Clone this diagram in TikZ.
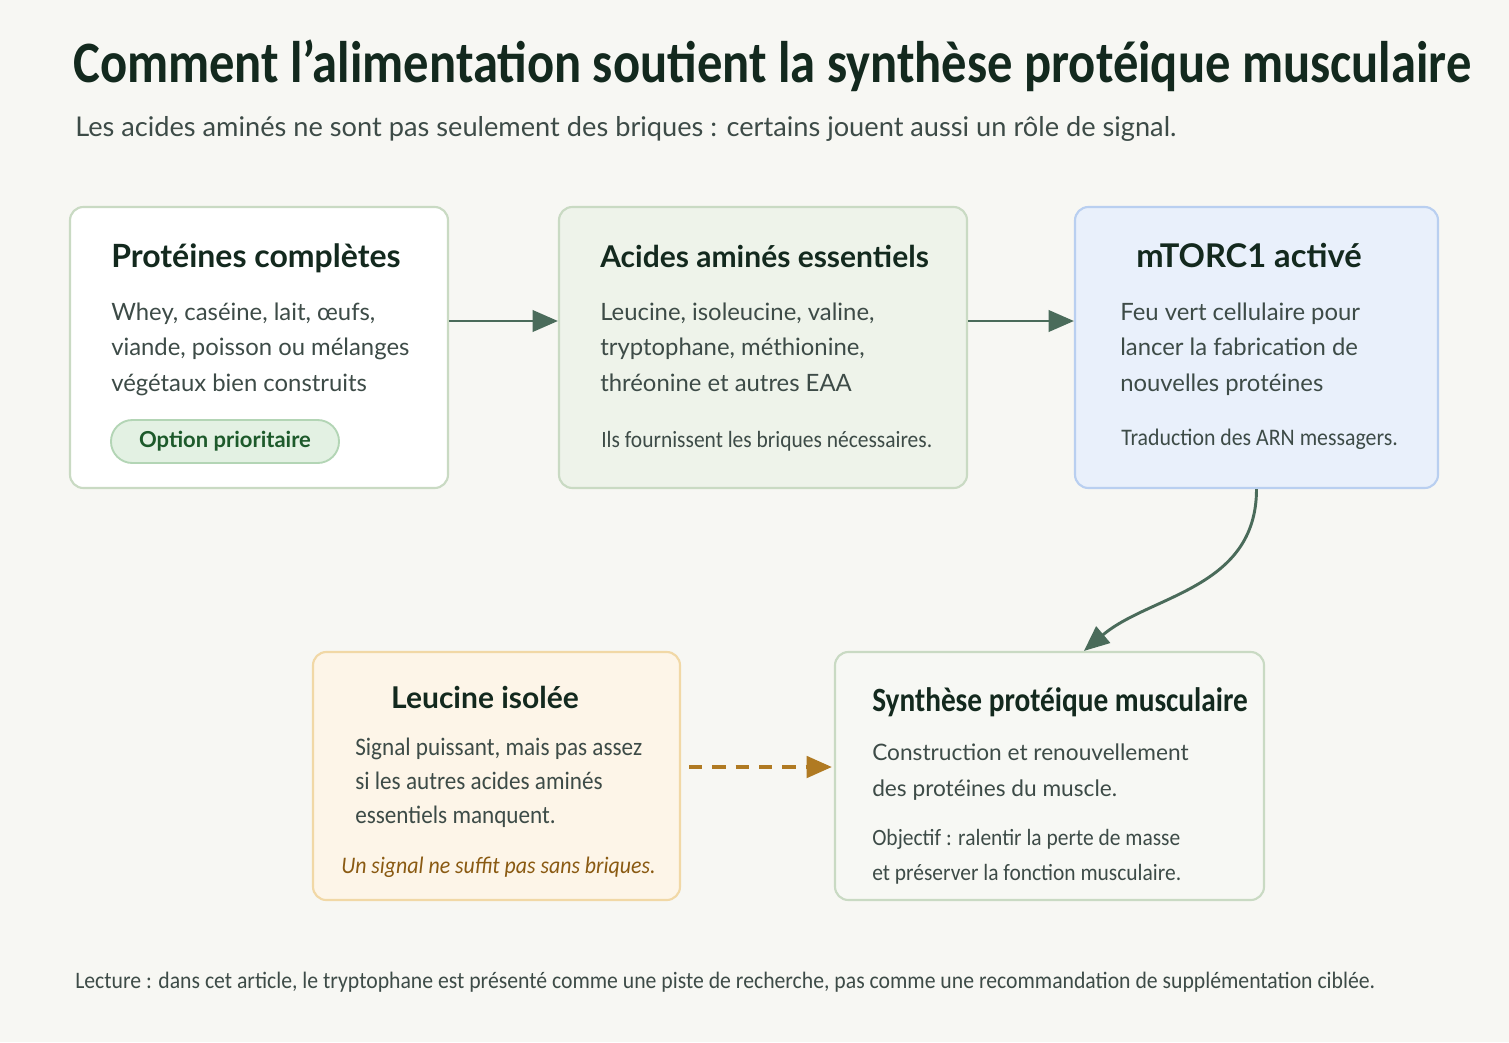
\documentclass[tikz,border=0pt]{standalone}
\usepackage{fontspec}
\setmainfont{Lato}
\newfontfamily\titlefont[FakeStretch=0.862]{Carlito}
\newfontfamily\notefont[FakeStretch=0.92]{Carlito}
\usetikzlibrary{arrows.meta,calc}

\definecolor{bg}{HTML}{F7F7F3}
\definecolor{ink}{HTML}{13291E}
\definecolor{bodyink}{HTML}{3D4B47}
\definecolor{flowgreen}{HTML}{4A6B5A}
\definecolor{linegreen}{HTML}{C9DAC3}
\definecolor{fillgreen}{HTML}{EEF3EA}
\definecolor{fillblue}{HTML}{E9F0FB}
\definecolor{lineblue}{HTML}{B9CFF0}
\definecolor{fillsand}{HTML}{FDF5E8}
\definecolor{linesand}{HTML}{F1D8A6}
\definecolor{fillpale}{HTML}{F7F8F4}
\definecolor{pillfill}{HTML}{E3F1E3}
\definecolor{pillline}{HTML}{B3D5B5}
\definecolor{pillink}{HTML}{1D5A2B}
\definecolor{flowbrown}{HTML}{B07A22}
\definecolor{notebrown}{HTML}{8A5A12}

\def\px{0.75pt}

\tikzset{
  card/.style={draw, line width=1.6pt, rounded corners=10pt, inner sep=0pt},
  cardtitle/.style={anchor=base west, inner sep=0pt, text=ink,
    font=\fontsize{23}{27}\selectfont\bfseries},
  cardtext/.style={anchor=base west, inner sep=0pt, text=bodyink,
    font=\fontsize{17.9}{21}\selectfont},
  cardnote/.style={anchor=base west, inner sep=0pt, text=bodyink,
    font=\notefont\fontsize{17.5}{20}\selectfont},
  flow/.style={-{Triangle[length=19pt,width=16pt]}, line width=2.2pt, draw=flowgreen}
}

\begin{document}
\begin{tikzpicture}[x=0.75pt, y=-0.75pt]

% fond
\fill[bg] (0,0) rectangle (1509,1042);
\useasboundingbox (0,0) rectangle (1509,1042);

% titre
\node[anchor=base west, inner sep=0pt, text=ink,
      font=\titlefont\fontsize{44}{52}\selectfont\bfseries] (titre) at (73,82)
  {Comment l’alimentation soutient la synthèse protéique musculaire};
\node[anchor=base west, inner sep=0pt, text=bodyink,
      font=\fontsize{20.4}{24}\selectfont] (soustitre) at (75,136)
  {Les acides aminés ne sont pas seulement des briques : certains jouent aussi un rôle de signal.};

% rangee du haut
\node[card, draw=linegreen, fill=white,
      minimum width=378*\px, minimum height=281*\px] (prot) at (259,347.5) {};
\node[card, draw=linegreen, fill=fillgreen,
      minimum width=408*\px, minimum height=281*\px] (eaa) at (763,347.5) {};
\node[card, draw=lineblue, fill=fillblue,
      minimum width=363*\px, minimum height=281*\px] (mtor) at (1256.5,347.5) {};

% rangee du bas
\node[card, draw=linesand, fill=fillsand,
      minimum width=367*\px, minimum height=248*\px] (leu) at (496.5,776) {};
\node[card, draw=linegreen, fill=fillpale,
      minimum width=429*\px, minimum height=248*\px] (sps) at (1049.5,776) {};

% Proteines completes
\node[cardtitle, font=\fontsize{24}{28}\selectfont\bfseries] (prot-t) at (111,267) {Protéines complètes};
\foreach \l [count=\i] in {{Whey, caséine, lait, œufs,},
                            {viande, poisson ou mélanges},
                            {végétaux bien construits}}
  \node[cardtext] (prot-\i) at (111,284.5+35.5*\i) {\l};
\node[draw=pillline, fill=pillfill, line width=1.4pt, rounded corners=16pt,
      minimum width=228*\px, minimum height=43*\px, text=pillink,
      font=\fontsize{16.5}{20}\selectfont\bfseries] (pill) at (225,441.5)
  {Option prioritaire};

% Acides amines essentiels
\node[cardtitle, font=\fontsize{22.5}{27}\selectfont\bfseries] (eaa-t) at (600,267) {Acides aminés essentiels};
\foreach \l [count=\i] in {{Leucine, isoleucine, valine,},
                            {tryptophane, méthionine,},
                            {thréonine et autres EAA}}
  \node[cardtext] (eaa-\i) at (600,284.5+35.5*\i) {\l};
\node[cardnote] (eaa-n) at (601,447) {Ils fournissent les briques nécessaires.};

% mTORC1
\node[cardtitle, anchor=base, font=\fontsize{24.5}{29}\selectfont\bfseries] (mtor-t) at (1249,267) {mTORC1 activé};
\foreach \l [count=\i] in {{Feu vert cellulaire pour},
                            {lancer la fabrication de},
                            {nouvelles protéines}}
  \node[cardtext] (mtor-\i) at (1120,284.5+35.5*\i) {\l};
\node[cardnote, font=\notefont\fontsize{17.8}{20}\selectfont] (mtor-n) at (1121,445) {Traduction des ARN messagers.};

% Leucine isolee
\node[cardtitle, anchor=base, font=\fontsize{22.5}{27}\selectfont\bfseries] (leu-t) at (485,708) {Leucine isolée};
\foreach \l [count=\i] in {{Signal puissant, mais pas assez},
                            {si les autres acides aminés},
                            {essentiels manquent.}}
  \node[cardtext, font=\notefont\fontsize{18.9}{22}\selectfont] (leu-\i) at (355,721+34*\i) {\l};
\node[cardnote, text=notebrown, font=\notefont\itshape\fontsize{17.8}{21}\selectfont]
  (leu-n) at (341,873) {Un signal ne suffit pas sans briques.};

% Synthese proteique musculaire
\node[cardtitle, font=\titlefont\fontsize{25.5}{31}\selectfont\bfseries] (sps-t) at (872,711)
  {Synthèse protéique musculaire};
\foreach \l [count=\i] in {{Construction et renouvellement},
                            {des protéines du muscle.}}
  \node[cardtext, font=\fontsize{17}{21}\selectfont] (sps-\i) at (872,724+36*\i) {\l};
\foreach \l [count=\i] in {{Objectif : ralentir la perte de masse},
                            {et préserver la fonction musculaire.}}
  \node[cardnote] (sps-n\i) at (872,810+35*\i) {\l};

% fleches
\draw[flow] ($(prot.east)+(0,-26.5)$) -- ($(eaa.west)+(0,-26.5)$);
\draw[flow] ($(eaa.east)+(0,-26.5)$) -- ($(mtor.west)+(0,-26.5)$);
\coordinate (sps-in) at ($(sps.north west)+(250,0)$);
\draw[flow] (mtor.south) .. controls ($(mtor.south)+(0,100)$) and (1150,595) .. (sps-in);
\draw[-{Triangle[length=19pt,width=16pt]}, line width=3pt, draw=flowbrown,
      dash pattern=on 10pt off 7.5pt, shorten <=8*\px, shorten >=2*\px]
  ($(leu.east)+(0,-9)$) -- ($(sps.west)+(0,-9)$);

% lecture
\node[anchor=base west, inner sep=0pt, text=bodyink,
      font=\notefont\fontsize{17.7}{21}\selectfont] (lecture) at (75,988)
  {Lecture : dans cet article, le tryptophane est présenté comme une piste de recherche, pas comme une recommandation de supplémentation ciblée.};

\end{tikzpicture}
\end{document}
